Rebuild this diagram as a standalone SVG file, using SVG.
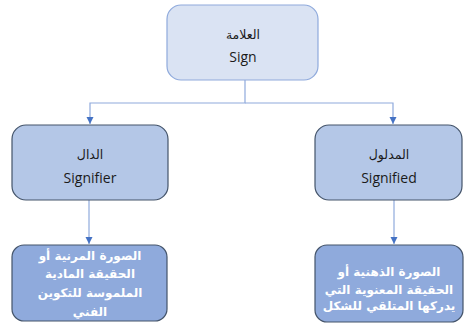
<svg xmlns="http://www.w3.org/2000/svg" width="465" height="324" viewBox="0 0 465 324">
<style>
.top{fill:#dae3f3;stroke:#8faadc;stroke-width:1.2}
.mid{fill:#b4c7e7;stroke:#44546a;stroke-width:1.2}
.bot{fill:#8faadc;stroke:#44546a;stroke-width:1.2}
.lbl{font-family:"Open Sans","DejaVu Sans",sans-serif;font-size:14px;fill:#1a1a1a;text-anchor:middle}
.ar{font-family:"DejaVu Sans",sans-serif;font-size:12.5px;fill:#1a1a1a;text-anchor:middle}
.wt{font-family:"DejaVu Sans",sans-serif;font-size:12px;font-weight:bold;fill:#ffffff;text-anchor:middle}
.con{fill:none;stroke:#8faadc;stroke-width:1.2}
</style>
<defs>
<marker id="ah" viewBox="0 0 10 10" refX="10" refY="5" markerWidth="6" markerHeight="6" orient="auto" markerUnits="strokeWidth"><path d="M0,0 L10,5 L0,10 z" fill="#4472c4"/></marker>
</defs>
<g id="connectors">
<path class="con" d="M245,80 V103 H90 V124" marker-end="url(#ah)"/>
<path class="con" d="M245,103 H393 V124" marker-end="url(#ah)"/>
<path class="con" d="M89,200 V244" marker-end="url(#ah)"/>
<path class="con" d="M394,200 V244" marker-end="url(#ah)"/>
</g>
<g id="sign">
<rect class="top" x="167" y="5" width="151" height="75" rx="14"/>
<text class="ar" x="243" y="39">العلامة</text>
<text class="lbl" x="243" y="62">Sign</text>
</g>
<g id="signifier">
<rect class="mid" x="12" y="125" width="156" height="75" rx="14"/>
<text class="ar" x="90" y="159">الدال</text>
<text class="lbl" x="90" y="183">Signifier</text>
</g>
<g id="signified">
<rect class="mid" x="315" y="125" width="147" height="75" rx="14"/>
<text class="ar" x="389" y="159">المدلول</text>
<text class="lbl" x="389" y="183">Signified</text>
</g>
<g id="signifier-desc">
<rect class="bot" x="12" y="245" width="155" height="76" rx="12"/>
<text class="wt" x="90" y="260">الصورة المرنية أو</text>
<text class="wt" x="90" y="278">الحقيقة المادية</text>
<text class="wt" x="90" y="297">الملموسة للتكوين</text>
<text class="wt" x="90" y="316">الفني</text>
</g>
<g id="signified-desc">
<rect class="bot" x="315" y="245" width="148" height="77" rx="12"/>
<text class="wt" x="389" y="276">الصورة الذهنية أو</text>
<text class="wt" x="389" y="294">الحقيقة المعنوية التي</text>
<text class="wt" x="389" y="310">يدركها المتلقي للشكل</text>
</g>
</svg>
